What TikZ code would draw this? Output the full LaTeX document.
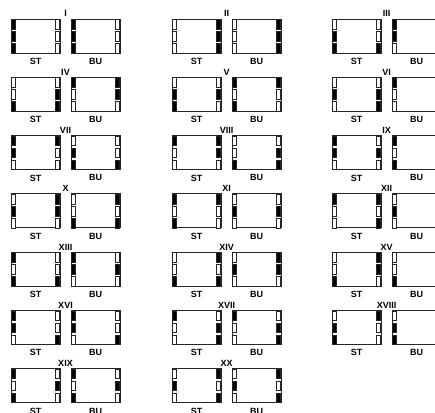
\documentclass[tikz,border=0pt]{standalone}
\usepackage{fontspec}
\setmainfont{Liberation Sans}
\usetikzlibrary{positioning}

\colorlet{B}{black}
\colorlet{W}{white}

% three slots down one side of a box: x of the slot column, fills top to bottom
\newcommand{\slots}[2]{%
  \foreach \f [count=\i from 0] in {#2}
    \draw[cell, fill=\f] (#1,\i*12+0.3) rectangle ++(4,9.6);
}

% one pair ST/BU: name, top-left corner, numeral, ST left, ST right, BU left, BU right
\newcommand{\duo}[7]{%
  \begin{scope}[shift={(#2)}]
    \node[box] (#1st) at (0,0) {};
    \node[box] (#1bu) at (60,0) {};
    \slots{0.3}{#4}
    \slots{44.7}{#5}
    \slots{60.3}{#6}
    \slots{104.7}{#7}
    \node[tag, above=2pt of #1st.north east, xshift=5.5pt] (#1num) {#3};
    \node[tag, below=5pt of #1st] (#1stlab) {ST};
    \node[tag, below=5pt of #1bu] (#1bulab) {BU};
  \end{scope}
}

\begin{document}
\begin{tikzpicture}[
    x=1pt, y=-1pt,
    box/.style={draw=black!85, line width=0.9pt, anchor=north west,
      minimum width=49pt, minimum height=34pt, inner sep=0pt, outer sep=0pt},
    cell/.style={draw=black!85, line width=0.6pt},
    tag/.style={font=\bfseries\fontsize{9}{9}\selectfont, inner sep=0pt}
]
    \useasboundingbox (0,0) rectangle (435,412);
    \clip (0,0) rectangle (435,412);

    % row 1
    \duo{g1}{11,19}{I}{B,B,B}{W,W,W}{B,B,B}{W,W,W}
    \duo{g2}{172,19}{II}{W,W,W}{B,B,B}{W,W,W}{B,B,B}
    \duo{g3}{332,19}{III}{W,B,B}{W,W,B}{B,B,W}{W,W,W}

    % row 2
    \duo{g4}{11,77.3}{IV}{W,W,B}{W,B,B}{B,W,W}{B,B,W}
    \duo{g5}{172,77.3}{V}{W,B,B}{W,B,W}{B,W,B}{B,W,W}
    \duo{g6}{332,77.3}{VI}{W,B,W}{W,B,B}{B,W,W}{W,W,W}

    % row 3
    \duo{g7}{11,135.6}{VII}{B,B,W}{B,W,W}{W,B,B}{W,W,B}
    \duo{g8}{172,135.6}{VIII}{B,W,W}{B,B,W}{W,W,B}{W,B,B}
    \duo{g9}{332,135.6}{IX}{B,B,W}{W,B,W}{B,W,B}{W,W,W}

    % row 4
    \duo{g10}{11,193.9}{X}{W,B,W}{B,B,W}{W,W,B}{B,W,B}
    \duo{g11}{172,193.9}{XI}{B,W,B}{B,W,W}{W,B,W}{W,B,W}
    \duo{g12}{332,193.9}{XII}{B,W,W}{B,W,B}{W,B,W}{W,W,W}

    % row 5
    \duo{g13}{11,252.2}{XIII}{B,W,B}{W,W,B}{B,B,W}{W,B,W}
    \duo{g14}{172,252.2}{XIV}{W,W,B}{B,W,B}{W,B,W}{B,B,W}
    \duo{g15}{332,252.2}{XV}{W,W,B}{B,B,W}{W,W,B}{W,W,W}

    % row 6
    \duo{g16}{11,310.5}{XVI}{B,B,W}{W,W,B}{B,B,W}{W,W,B}
    \duo{g17}{172,310.5}{XVII}{B,W,W}{W,B,B}{B,W,W}{W,B,B}
    \duo{g18}{332,310.5}{XVIII}{W,B,B}{B,W,W}{W,B,B}{W,W,W}

    % row 7
    \duo{g19}{11,368.8}{XIX}{B,W,B}{W,B,W}{B,W,B}{W,B,W}
    \duo{g20}{172,368.8}{XX}{W,B,W}{B,W,B}{W,B,W}{B,W,B}
\end{tikzpicture}
\end{document}
